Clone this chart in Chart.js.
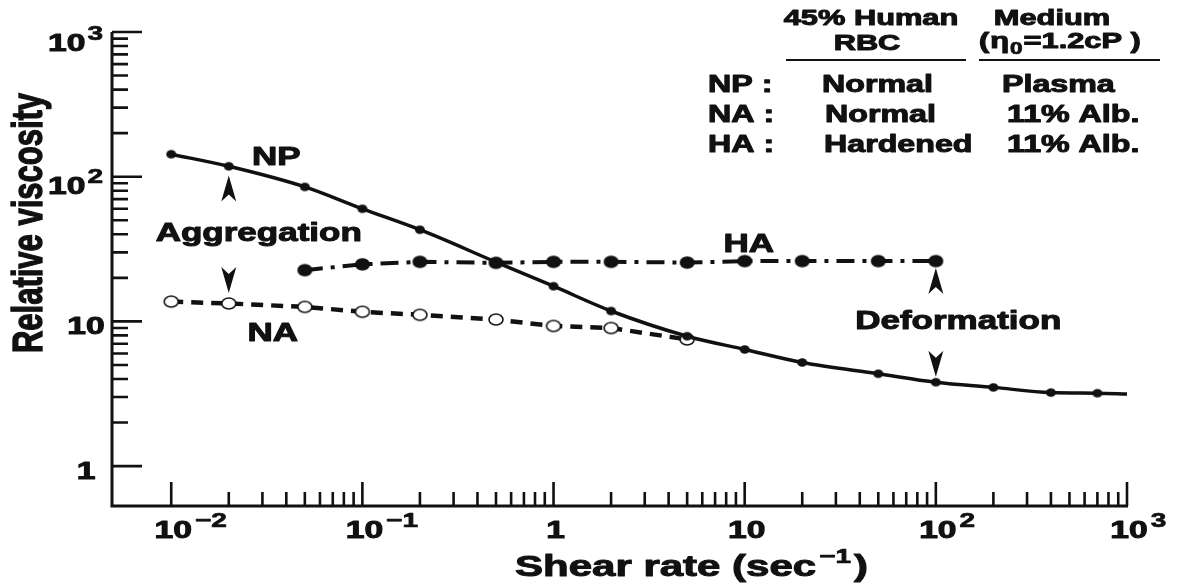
<!DOCTYPE html>
<html>
<head>
<meta charset="utf-8">
<script src="https://cdn.jsdelivr.net/npm/chart.js@4.4.0/dist/chart.umd.min.js"></script>
<style>
  html, body { margin: 0; padding: 0; background: #fff; }
  #wrap { width: 1178px; height: 588px; }
</style>
</head>
<body>
<div id="wrap"><canvas id="chart" width="1178" height="588"></canvas></div>
<script>
// values: shear rate (1/s) vs relative viscosity
// NP: normal RBC in plasma (last entry = where the fitted curve ends, no marker)
const npShear = [0.01, 0.02, 0.05, 0.1, 0.2, 0.5, 1, 2, 5, 10, 20, 50, 100, 200, 400, 700, 1000];
const npVisc  = [143, 118, 85, 60, 43, 25.7, 17.5, 11.8, 7.9, 6.4, 5.2, 4.35, 3.8, 3.5, 3.22, 3.19, 3.15];
// NA: normal RBC in 11% albumin
const naShear = [0.01, 0.02, 0.05, 0.1, 0.2, 0.5, 1, 2, 5];
const naVisc  = [13.7, 13.3, 12.6, 11.65, 11.1, 10.3, 9.3, 9.0, 7.5];
// HA: hardened RBC in 11% albumin
const haShear = [0.05, 0.1, 0.2, 0.5, 1, 2, 5, 10, 20, 50, 100];
const haVisc  = [22.6, 24.8, 25.8, 25.4, 25.8, 25.8, 25.5, 26.1, 26.1, 26.1, 26.1];

// axes
const xMin = 0.0049, xMax = 1000;
const yMin = 0.53, yMax = 1000;
const xTickVals = [0.01, 0.1, 1, 10, 100, 1000];
const xTickBase = ['10', '10', '1', '10', '10', '10'];
const xTickExp  = ['\u22122', '\u22121', '', '', '2', '3'];
const yTickVals = [1, 10, 100, 1000];
const yTickBase = ['1', '10', '10', '10'];
const yTickExp  = ['', '', '2', '3'];

// labels placed in data coordinates (x, baseline y)
const curveLabels = [
  { text: 'NP', x: 0.0355, y: 120 },
  { text: 'Aggregation', x: 0.0287, y: 35.9 },
  { text: 'NA', x: 0.034, y: 7.3 },
  { text: 'HA', x: 10.5, y: 30.1 },
  { text: 'Deformation', x: 131, y: 8.85 }
];
const arrows = [
  { x: 0.02, y: 102, dir: 'up' },
  { x: 0.02, y: 15.7, dir: 'down' },
  { x: 100, y: 23.4, dir: 'up' },
  { x: 100, y: 4.14, dir: 'down' }
];

const INK = '#111';
const FONT = '"Liberation Sans", Arial, Helvetica, sans-serif';
const STRETCH = 1.4; // the original figure is widened horizontally

function textW(ctx, s, size) {
  ctx.font = 'bold ' + size + 'px ' + FONT;
  return ctx.measureText(s).width * STRETCH;
}
function drawText(ctx, s, x, y, size, align) {
  const w = textW(ctx, s, size);
  let left = x;
  if (align === 'center') left = x - w / 2;
  else if (align === 'right') left = x - w;
  ctx.save();
  ctx.translate(left, y);
  ctx.scale(STRETCH, 1);
  ctx.textAlign = 'left';
  ctx.textBaseline = 'alphabetic';
  ctx.fillStyle = INK;
  ctx.strokeStyle = INK;
  ctx.lineWidth = size > 21 ? 1 : 0.7;
  ctx.lineJoin = 'round';
  ctx.fillText(s, 0, 0);
  ctx.strokeText(s, 0, 0);
  ctx.restore();
  return w;
}

// markers are a little wider than tall, like the stretched original
function makeDot(w, h, fill, stroke, lw) {
  const c = document.createElement('canvas');
  c.width = Math.ceil(w + lw + 2);
  c.height = Math.ceil(h + lw + 2);
  const g = c.getContext('2d');
  g.beginPath();
  g.ellipse(c.width / 2, c.height / 2, w / 2, h / 2, 0, 0, Math.PI * 2);
  g.fillStyle = fill;
  g.fill();
  if (lw) { g.lineWidth = lw; g.strokeStyle = stroke; g.stroke(); }
  return c;
}
const npDot = makeDot(10, 8.5, INK, INK, 0);
const haDot = makeDot(15, 12.5, INK, INK, 0);
const naDot = makeDot(14, 11, '#fff', INK, 1.6);

const figurePlugin = {
  id: 'figure',
  afterDraw(chart) {
    const ctx = chart.ctx;
    const area = chart.chartArea;
    const xs = chart.scales.x, ys = chart.scales.y;
    ctx.save();
    ctx.strokeStyle = INK;
    ctx.fillStyle = INK;
    ctx.lineCap = 'butt';

    // axis lines (left and bottom only)
    ctx.lineWidth = 3;
    ctx.beginPath();
    ctx.moveTo(area.left, ys.getPixelForValue(yMax));
    ctx.lineTo(area.left, area.bottom);
    ctx.lineTo(xs.getPixelForValue(xMax) + 1, area.bottom);
    ctx.stroke();

    // inward ticks
    ctx.lineWidth = 2.6;
    ctx.beginPath();
    xTickVals.forEach((v, i) => {
      const px = xs.getPixelForValue(v);
      ctx.moveTo(px, area.bottom); ctx.lineTo(px, area.bottom - 24);
      if (i < xTickVals.length - 1) {
        for (let m = 2; m <= 9; m++) {
          const mp = xs.getPixelForValue(v * m);
          ctx.moveTo(mp, area.bottom); ctx.lineTo(mp, area.bottom - 14);
        }
      }
    });
    yTickVals.forEach((v, i) => {
      const py = ys.getPixelForValue(v);
      ctx.moveTo(area.left, py); ctx.lineTo(area.left + 30, py);
      if (i < yTickVals.length - 1) {
        for (let m = 2; m <= 9; m++) {
          const mp = ys.getPixelForValue(v * m);
          ctx.moveTo(area.left, mp); ctx.lineTo(area.left + 16, mp);
        }
      }
    });
    ctx.stroke();

    // x tick labels: base centred on the tick, exponent hanging right
    xTickVals.forEach((v, i) => {
      const px = xs.getPixelForValue(v) + 2;
      const base = area.bottom + 32;
      const w = drawText(ctx, xTickBase[i], px, base, 24, 'center');
      if (xTickExp[i]) drawText(ctx, xTickExp[i], px + w / 2 + 3, base - 11, 20, 'left');
    });
    // y tick labels
    yTickVals.forEach((v, i) => {
      const py = ys.getPixelForValue(v);
      if (yTickExp[i]) {
        const wb = textW(ctx, yTickBase[i], 24);
        const we = textW(ctx, yTickExp[i], 20);
        const left = area.left - 9 - (wb + 2 + we);
        const base = py + (v === yMax ? 19 : 17);
        drawText(ctx, yTickBase[i], left, base, 24, 'left');
        drawText(ctx, yTickExp[i], left + wb + 2, base - 11, 20, 'left');
      } else {
        drawText(ctx, yTickBase[i], area.left - 26, py + 13, 24, 'center');
      }
    });

    // axis titles
    let tx = 515;
    tx += drawText(ctx, 'Shear rate (sec', tx, 576, 30, 'left') + 3;
    tx += drawText(ctx, '\u22121', tx, 563, 20, 'left') + 3;
    drawText(ctx, ')', tx, 576, 30, 'left');

    ctx.save();
    ctx.translate(42, 223);
    ctx.scale(STRETCH, 1);
    ctx.rotate(-Math.PI / 2);
    ctx.font = 'bold 31px ' + FONT;
    ctx.textAlign = 'center';
    ctx.textBaseline = 'alphabetic';
    ctx.lineWidth = 1;
    ctx.fillText('Relative viscosity', 0, 0);
    ctx.strokeText('Relative viscosity', 0, 0);
    ctx.restore();

    // curve labels and arrowheads
    curveLabels.forEach(l => {
      drawText(ctx, l.text, xs.getPixelForValue(l.x), ys.getPixelForValue(l.y), 25, 'center');
    });
    arrows.forEach(a => {
      const x = xs.getPixelForValue(a.x), tip = ys.getPixelForValue(a.y);
      const s = a.dir === 'up' ? 1 : -1;
      ctx.beginPath();
      ctx.moveTo(x, tip);
      ctx.lineTo(x + 7.5, tip + s * 26);
      ctx.lineTo(x, tip + s * 19);
      ctx.lineTo(x - 7.5, tip + s * 26);
      ctx.closePath();
      ctx.fill();
    });

    // key table, top right
    drawText(ctx, '45% Human', 871, 25, 22, 'center');
    drawText(ctx, 'RBC', 867, 50, 22, 'center');
    drawText(ctx, 'Medium', 1052, 25, 22, 'center');
    let ex = 979;
    ex += drawText(ctx, '(', ex, 48, 22, 'left') + 1;
    ex += drawText(ctx, '\u03B7', ex, 48, 22, 'left') + 1;
    ex += drawText(ctx, '0', ex, 54, 16, 'left') + 1;
    ex += drawText(ctx, '=1.2cP', ex, 48, 22, 'left');
    drawText(ctx, ' )', ex, 48, 22, 'left');
    ctx.lineWidth = 2;
    ctx.beginPath();
    ctx.moveTo(786, 60); ctx.lineTo(966, 60);
    ctx.moveTo(979, 60); ctx.lineTo(1160, 60);
    ctx.stroke();
    const rows = [['NP :', 'Normal', 'Plasma', 92, 822, 1002],
                  ['NA :', 'Normal', '11% Alb.', 122, 825, 1007],
                  ['HA :', 'Hardened', '11% Alb.', 152, 824, 1007]];
    rows.forEach(r => {
      drawText(ctx, r[0], 708, r[3], 23, 'left');
      drawText(ctx, r[1], r[4], r[3], 23, 'left');
      drawText(ctx, r[2], r[5], r[3], 23, 'left');
    });
    ctx.restore();
  }
};

function pts(xsArr, ysArr) {
  return xsArr.map((x, i) => ({ x: x, y: ysArr[i] }));
}

new Chart(document.getElementById('chart').getContext('2d'), {
  type: 'scatter',
  data: {
    datasets: [
      {
        label: 'NP',
        data: pts(npShear, npVisc),
        showLine: true,
        borderColor: INK,
        borderWidth: 3.5,
        cubicInterpolationMode: 'monotone',
        pointStyle: npDot,
        pointRadius: c => (c.dataIndex === npShear.length - 1 ? 0 : 5),
        clip: false
      },
      {
        label: 'HA',
        data: pts(haShear, haVisc),
        showLine: true,
        borderColor: INK,
        borderWidth: 4,
        borderDash: [18, 8, 4, 8],
        borderCapStyle: 'butt',
        pointStyle: haDot,
        pointRadius: 7,
        clip: false
      },
      {
        label: 'NA',
        data: pts(naShear, naVisc),
        showLine: true,
        borderColor: INK,
        borderWidth: 4.5,
        borderDash: [12, 8],
        borderCapStyle: 'butt',
        pointStyle: naDot,
        pointRadius: 7,
        clip: false
      }
    ]
  },
  options: {
    responsive: false,
    animation: false,
    devicePixelRatio: 1,
    layout: { padding: { left: 112, right: 51, top: 32, bottom: 82 } },
    plugins: { legend: { display: false }, tooltip: { enabled: false } },
    scales: {
      x: { type: 'logarithmic', min: xMin, max: xMax, display: false },
      y: { type: 'logarithmic', min: yMin, max: yMax, display: false }
    }
  },
  plugins: [figurePlugin]
});
</script>
</body>
</html>
